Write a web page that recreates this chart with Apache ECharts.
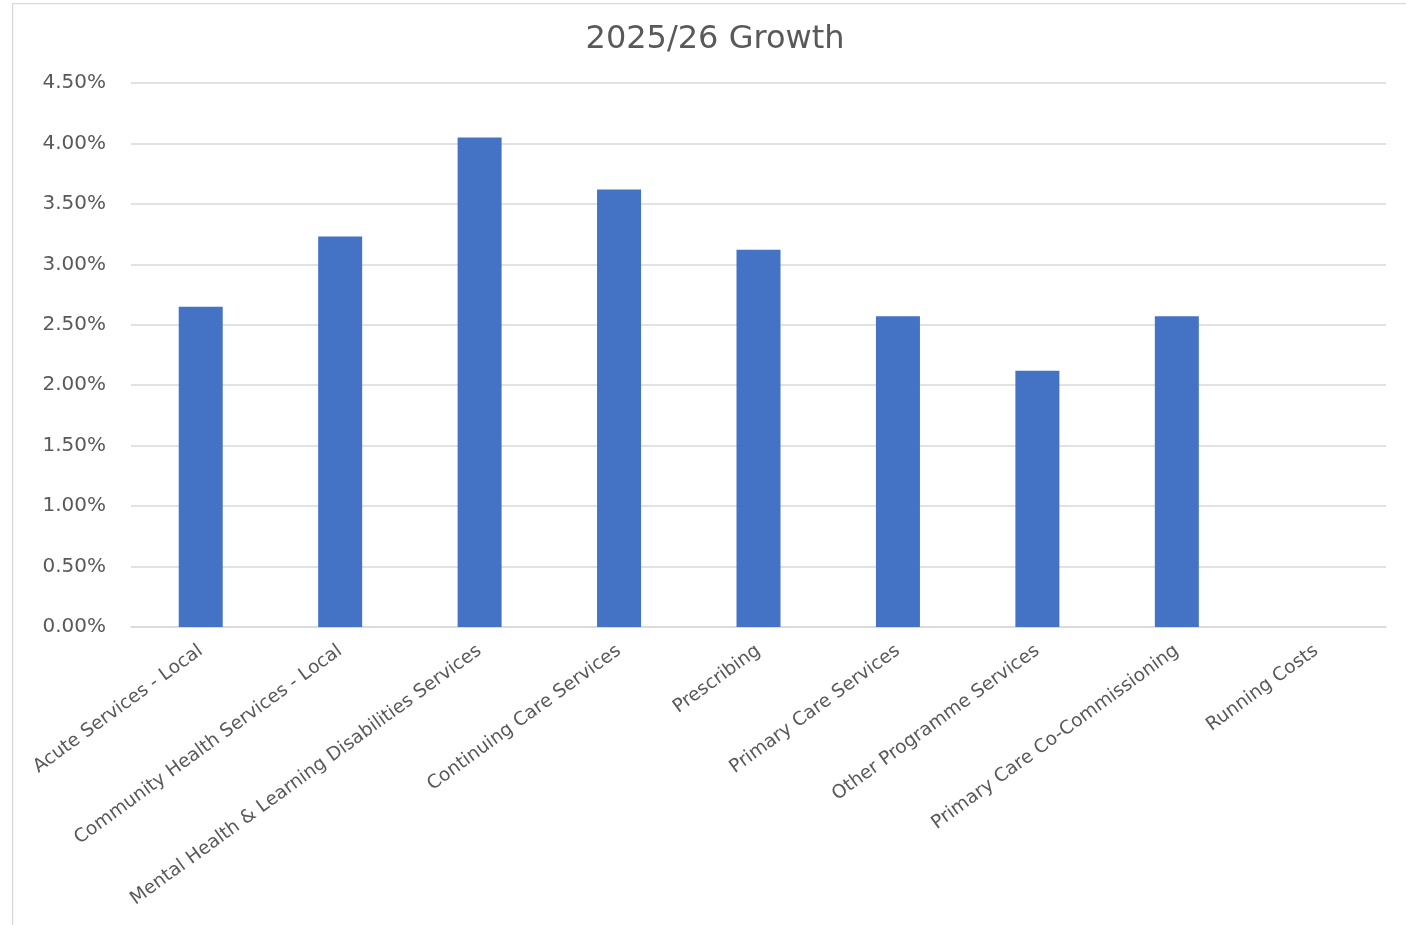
<!DOCTYPE html>
<html>
<head>
<meta charset="utf-8">
<title>2025/26 Growth</title>
<script src="https://cdn.jsdelivr.net/npm/echarts@6/dist/echarts.min.js"></script>
<style>
  html, body { margin: 0; padding: 0; background: #ffffff; overflow: hidden; width: 1406px; height: 925px; }
  #chart { position: absolute; left: 12px; top: 3px; width: 1406px; height: 925px; }
</style>
</head>
<body>
<div id="chart"></div>
<script>
// Programme budget lines
const categories = [
  'Acute Services - Local',
  'Community Health Services - Local',
  'Mental Health & Learning Disabilities Services',
  'Continuing Care Services',
  'Prescribing',
  'Primary Care Services',
  'Other Programme Services',
  'Primary Care Co-Commissioning',
  'Running Costs'
];

// Growth for each line, in percent
const growthPct = [2.65, 3.23, 4.05, 3.62, 3.12, 2.57, 2.12, 2.57, 0];

// Value axis range (percent)
const yMin = 0;
const yMax = 4.5;
const yStep = 0.5;

const textGrey = '#595959';
const lineGrey = '#d9d9d9';
const font = 'DejaVu Sans';

const chart = echarts.init(document.getElementById('chart'), null, { renderer: 'canvas' });

chart.setOption({
  animation: false,
  backgroundColor: '#ffffff',
  title: {
    text: '2025/26 Growth',
    left: 'center',
    top: 16,
    textStyle: { fontFamily: font, fontSize: 32, fontWeight: 'normal', color: textGrey }
  },
  graphic: [{
    type: 'polyline',
    shape: { points: [[0.5, 925], [0.5, 0.5], [1406, 0.5]] },
    style: { stroke: lineGrey, lineWidth: 1.5, fill: null },
    silent: true
  }],
  grid: { left: 119, right: 32, top: 80, bottom: 301, containLabel: false },
  xAxis: {
    type: 'category',
    data: categories,
    axisLine: { show: true, lineStyle: { color: lineGrey, width: 1.5 } },
    axisTick: { show: false },
    axisLabel: {
      interval: 0,
      rotate: 36,
      margin: 22,
      fontFamily: font,
      fontSize: 18.6,
      color: textGrey
    }
  },
  yAxis: {
    type: 'value',
    min: yMin,
    max: yMax,
    interval: yStep,
    axisLine: { show: false },
    axisTick: { show: false },
    splitLine: { show: true, lineStyle: { color: lineGrey, width: 1.5 } },
    axisLabel: {
      margin: 25,
      fontFamily: font,
      fontSize: 20,
      color: textGrey,
      formatter: v => v.toFixed(2) + '%'
    }
  },
  series: [{
    name: '2025/26 Growth',
    type: 'bar',
    data: growthPct,
    barWidth: 44,
    itemStyle: { color: '#4472C4' }
  }]
});
</script>
</body>
</html>
